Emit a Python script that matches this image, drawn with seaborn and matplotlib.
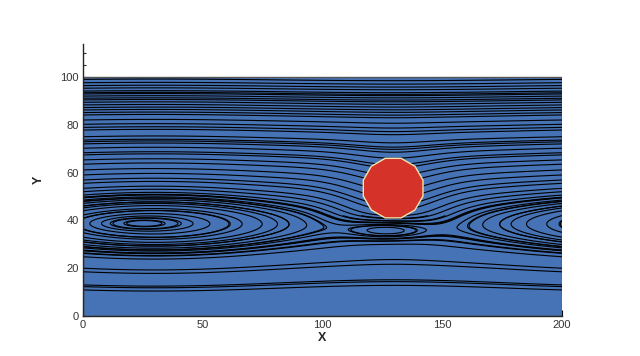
import numpy as np
import matplotlib
matplotlib.use("Agg")
import matplotlib.pyplot as plt
from matplotlib.patches import Rectangle, RegularPolygon
import seaborn as sns

# ---- data ----
domain_x = [0, 200]
domain_y = [0, 100]
x_ticks = [0, 50, 100, 150, 200]
y_ticks = [0, 20, 40, 60, 80, 100]

# flow-structure parameters (cat's-eye recirculation + cylinder)
eye_center = [30.0, 38.5]
eye_period = 200.0
eye_strength = 0.035
vortex_core = [24.0, 38.8, 0.6, 18.0, 2.8]   # x, y, depth, x-extent, y-extent
wake_eye = [128.0, 36.0, 2.0, 18.0, 5.0]     # x, y, depth, x-extent, y-extent
cyl_center = [129.5, 53.5]
cyl_radius = 12.9
cyl_dip = [3.0, 22.0, 18.0]   # amplitude, x-extent, y-extent

# streamline seeds: y where lines cross the inlet (x=0)
seed_y_upper = [99.0, 97.6, 96.4, 95.3, 94.1, 93.4, 92.9, 92.0, 91.1, 90.4,
                89.4, 88.3, 87.2, 86.2, 85.1, 84.1, 82.0, 80.2, 78.9, 77.8,
                75.0, 73.6, 72.9, 72.0, 70.2, 68.3, 67.4, 65.3, 63.5, 61.1,
                59.0, 56.9, 55.5, 53.4, 52.0]
seed_y_lower = [26.2, 24.8, 20.0, 18.5, 13.0, 12.3, 10.9]
seed_y_eye_inlet = [50.6, 49.7, 48.5, 47.1, 46.0, 31.8, 29.0, 27.6]
# seeds inside the left vortex (x=24), right vortex (x=200) and wake eye
seed_y_left_vortex = [39.9, 40.1, 40.9, 41.1, 41.8, 42.8, 44.0]
seed_y_right_vortex = [40.0, 42.0, 44.0, 46.0]
seed_y_wake_eye = [37.8, 39.0]


def gaussian(x, y, cx, cy, sx, sy):
    return np.exp(-((x - cx) / sx) ** 2 - ((y - cy) / sy) ** 2)


def stream_function(x, y):
    k = 2 * np.pi / eye_period
    x0, y0 = eye_center
    psi = np.log(np.cosh(k * (y - y0)) - eye_strength * np.cos(k * (x - x0))) / k
    cx, cy, cd, csx, csy = vortex_core
    psi = psi - cd * gaussian(x, y, cx, cy, csx, csy)
    wx, wy, wd, wsx, wsy = wake_eye
    psi = psi - wd * gaussian(x, y, wx, wy, wsx, wsy)
    a, sx, sy = cyl_dip
    psi = psi + a * gaussian(x, y, cyl_center[0], cyl_center[1], sx, sy)
    return psi


def to_levels(values):
    return np.unique(np.round(values, 6))


sns.set_style("ticks")
plt.rcParams["font.family"] = ["Liberation Sans", "DejaVu Sans"]

fig = plt.figure(figsize=(6.4, 3.56), dpi=100)
ax = fig.add_axes([0.1297, 0.1124, 0.7484, 0.764])

xs = np.linspace(domain_x[0], domain_x[1], 1001)
ys = np.linspace(domain_y[0], domain_y[1], 501)
XX, YY = np.meshgrid(xs, ys)
PSI = stream_function(XX, YY)

levels_upper = to_levels([stream_function(0.0, y) for y in seed_y_upper])
levels_lower = to_levels([stream_function(0.0, y) for y in seed_y_lower])
levels_eye = ([stream_function(0.0, y) for y in seed_y_eye_inlet]
              + [stream_function(vortex_core[0], y) for y in seed_y_left_vortex]
              + [stream_function(200.0, y) for y in seed_y_right_vortex]
              + [stream_function(wake_eye[0], y) for y in seed_y_wake_eye])
levels_eye = to_levels(levels_eye)

line_kw = dict(colors="black", linewidths=0.8, linestyles="solid",
               negative_linestyles="solid", zorder=2)

ax.add_patch(Rectangle((domain_x[0], domain_y[0]), domain_x[1] - domain_x[0],
                       domain_y[1] - domain_y[0], facecolor="#4673B5",
                       edgecolor="#555555", linewidth=1.0, zorder=1))
ax.contour(XX, YY, np.ma.masked_where(YY < 33, PSI), levels=levels_upper, **line_kw)
ax.contour(XX, YY, np.ma.masked_where(YY > 42, PSI), levels=levels_lower, **line_kw)
ax.contour(XX, YY, PSI, levels=levels_eye, **line_kw)
ax.add_patch(RegularPolygon(cyl_center, numVertices=12, radius=cyl_radius,
                            orientation=np.pi / 12, facecolor="#D5322A",
                            edgecolor="#F3E5AB", linewidth=1.0, zorder=3))

ax.set_xlim(0, 200)
ax.set_ylim(0, 113.8)
ax.set_xticks(x_ticks)
ax.set_yticks(y_ticks)
ax.set_xticks(np.arange(0, 201, 10), minor=True)
ax.set_yticks(np.arange(0, 111, 5), minor=True)
ax.tick_params(which="major", direction="in", length=4.5, width=0.8,
               labelsize=8, pad=3, colors="black")
ax.tick_params(which="minor", direction="in", length=2.3, width=0.8)
for lab in ax.get_xticklabels() + ax.get_yticklabels():
    lab.set_color("#333333")
sns.despine(ax=ax, top=True, right=True)
ax.spines["left"].set_linewidth(1.0)
ax.spines["bottom"].set_linewidth(1.0)
ax.set_xlabel("X", fontsize=9, fontweight="bold", labelpad=1)
ax.set_ylabel("Y", fontsize=9, fontweight="bold", labelpad=11)
ax.set_facecolor("white")

fig.savefig("out.png", dpi=100)
